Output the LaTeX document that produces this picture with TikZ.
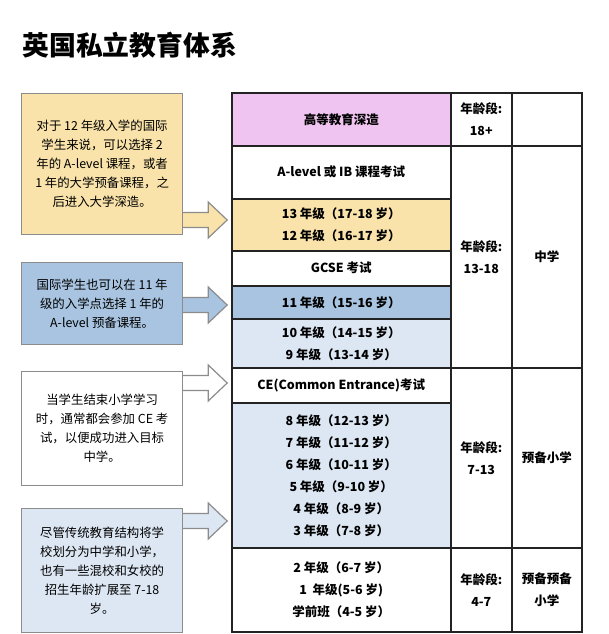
\documentclass[tikz,border=0pt]{standalone}
\usepackage{fontspec}
\setmainfont{Noto Sans CJK SC}

\definecolor{pinkc}{RGB}{240,196,240}
\definecolor{yellowc}{RGB}{249,227,170}
\definecolor{bluec}{RGB}{168,196,224}
\definecolor{lightc}{RGB}{221,231,243}
\definecolor{edgec}{RGB}{140,140,140}
\definecolor{tablec}{RGB}{35,35,35}

\tikzset{
    cell/.style={draw=tablec, line width=1.5pt, inner sep=0pt, anchor=north west,
        align=center, font=\bfseries\fontsize{12.5}{22}\selectfont},
    note/.style={draw=edgec, line width=1.2pt, inner sep=0pt, anchor=north west,
        minimum width=161, align=center, font=\fontsize{12.4}{19}\selectfont},
    blockarrow/.style={draw=edgec, line width=1.2pt, line join=miter}
}

\begin{document}
\begin{tikzpicture}[x=1pt, y=-1pt]
    % 画布 (Canvas)
    \useasboundingbox (0,0) rectangle (608,634);
    \fill[white] (0,0) rectangle (608,634);

    % 标题 (Title)
    \node[anchor=west, font=\bfseries\fontsize{26.8}{30}\selectfont] (title) at (19,45) {英国私立教育体系};

    % 第一列：学习阶段 (First column: stages)
    \node[cell, fill=pinkc, minimum width=219, minimum height=53] (higher) at (231,92) {高等教育深造};
    \node[cell, fill=white, minimum width=219, minimum height=53] (alevel) at (231,145) {A-level 或 IB 课程考试};
    \node[cell, fill=yellowc, minimum width=219, minimum height=52] (y1213) at (231,198) {13 年级（17-18 岁）\\12 年级（16-17 岁）};
    \node[cell, fill=white, minimum width=219, minimum height=35] (gcse) at (231,250) {GCSE 考试};
    \node[cell, fill=bluec, minimum width=219, minimum height=33] (y11) at (231,285) {11 年级（15-16 岁）};
    \node[cell, fill=lightc, minimum width=219, minimum height=49] (y910) at (231,318) {10 年级（14-15 岁）\\9 年级（13-14 岁）};
    \node[cell, fill=white, minimum width=219, minimum height=35] (ce) at (231,367) {CE(Common Entrance)考试};
    \node[cell, fill=lightc, minimum width=219, minimum height=145] (y38) at (231,402)
        {8 年级（12-13 岁）\\7 年级（11-12 岁）\\6 年级（10-11 岁）\\5 年级（9-10 岁）\\4 年级（8-9 岁）\\3 年级（7-8 岁）};
    \node[cell, fill=white, minimum width=219, minimum height=84] (y02) at (231,547)
        {2 年级（6-7 岁）\\1\ \ 年级(5-6 岁)\\学前班（4-5 岁）};

    % 第二列：年龄段 (Second column: age range)
    \node[cell, minimum width=61, minimum height=53] (age1) at (450,92) {年龄段:\\18+};
    \node[cell, minimum width=61, minimum height=222] (age2) at (450,145) {年龄段:\\13-18};
    \node[cell, minimum width=61, minimum height=180] (age3) at (450,367) {年龄段:\\7-13};
    \node[cell, minimum width=61, minimum height=84] (age4) at (450,547) {年龄段:\\4-7};

    % 第三列：学校类型 (Third column: school type)
    \node[cell, minimum width=70, minimum height=53] (school1) at (511,92) {};
    \node[cell, minimum width=70, minimum height=222] (school2) at (511,145) {中学};
    \node[cell, minimum width=70, minimum height=180] (school3) at (511,367) {预备小学};
    \node[cell, minimum width=70, minimum height=84] (school4) at (511,547) {预备预备\\小学};

    % 左侧说明框 (Notes on the left)
    \node[note, fill=yellowc, minimum height=141] (note1) at (21,93)
        {对于 12 年级入学的国际\\学生来说，可以选择 2\\年的 A-level 课程，或者\\1 年的大学预备课程，之\\后进入大学深造。};
    \node[note, fill=bluec, minimum height=82] (note2) at (21,262)
        {国际学生也可以在 11 年\\级的入学点选择 1 年的\\A-level 预备课程。};
    \node[note, fill=white, minimum height=114] (note3) at (21,371)
        {当学生结束小学学习\\时，通常都会参加 CE 考\\试，以便成功进入目标\\中学。};
    \node[note, fill=lightc, minimum height=124] (note4) at (21,508)
        {尽管传统教育结构将学\\校划分为中学和小学，\\也有一些混校和女校的\\招生年龄扩展至 7-18\\岁。};

    % 箭头 (Block arrows)
    \filldraw[blockarrow, fill=yellowc] (note1.east |- 0,212.5) -- ++(25,0) -- ++(0,-10.5) -- ++(19,18) -- ++(-19,18) -- ++(0,-10.5) -- ++(-25,0);
    \filldraw[blockarrow, fill=bluec] (note2.east |- 0,297.5) -- ++(25,0) -- ++(0,-10.5) -- ++(19,18) -- ++(-19,18) -- ++(0,-10.5) -- ++(-25,0);
    \filldraw[blockarrow, fill=white] (note3.east |- 0,375.5) -- ++(25,0) -- ++(0,-10.5) -- ++(19,18) -- ++(-19,18) -- ++(0,-10.5) -- ++(-25,0);
    \filldraw[blockarrow, fill=lightc] (note4.east |- 0,513.5) -- ++(25,0) -- ++(0,-10.5) -- ++(19,18) -- ++(-19,18) -- ++(0,-10.5) -- ++(-25,0);

\end{tikzpicture}
\end{document}
